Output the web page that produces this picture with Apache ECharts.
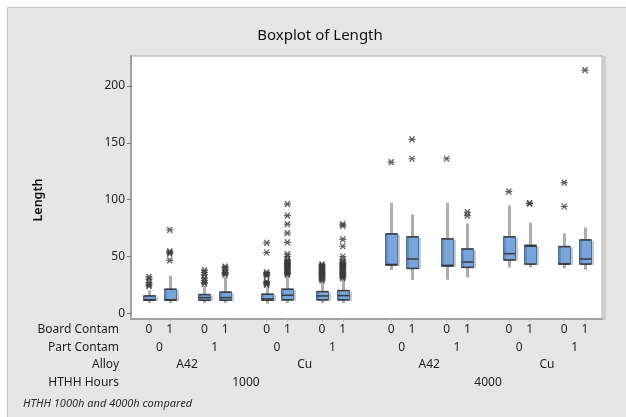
<!DOCTYPE html>
<html><head><meta charset="utf-8">
<script src="https://cdn.jsdelivr.net/npm/echarts@6/dist/echarts.min.js"></script>
<style>
html,body{margin:0;padding:0;background:#fff}
#wrap{position:relative;width:626px;height:417px;overflow:hidden}
#panel{position:absolute;left:7px;top:7px;right:0;bottom:0;background:#e6e6e6;border-left:1px solid #c4c4c4;border-top:1px solid #c4c4c4}
#c{position:absolute;left:0;top:0;width:626px;height:417px}
</style>
</head><body><div id="wrap"><div id="panel"></div><div id="c"></div></div>
<script>
// ---- grouping categories (one entry per box) ----
const boardContam = ['0','1','0','1','0','1','0','1','0','1','0','1','0','1','0','1'];
const partContam  = ['0','0','1','1','0','0','1','1','0','0','1','1','0','0','1','1'];
const alloy       = ['A42','A42','A42','A42','Cu','Cu','Cu','Cu','A42','A42','A42','A42','Cu','Cu','Cu','Cu'];
const hthhHours   = ['1000','1000','1000','1000','1000','1000','1000','1000','4000','4000','4000','4000','4000','4000','4000','4000'];
const rowNames    = ['Board Contam', 'Part Contam', 'Alloy', 'HTHH Hours'];

// ---- box statistics ----
const whiskerLow  = [9, 9, 9, 9, 8.5, 9, 9, 9, 38, 29.5, 29.5, 31.5, 40.4, 40.4, 39.5, 38.3];
const q1          = [11.5, 11.5, 11.5, 11.5, 11.5, 11.8, 11.8, 11.8, 42.5, 39.5, 41.6, 40.4, 46.9, 43.3, 43.3, 43.3];
const median      = [12, 12, 13.8, 13.8, 12.7, 15.9, 15.3, 15.6, 43, 47.8, 42.2, 45.1, 52.5, 59, 43.6, 47.8];
const q3          = [15.3, 21.2, 16.5, 18.6, 16.8, 21.2, 19.1, 20, 69.9, 67.3, 65.5, 56.6, 67.3, 59.8, 58.7, 64.6];
const whiskerHigh = [20, 33, 24, 32, 23, 33, 28, 30, 97.3, 87, 97.3, 79, 95, 79.6, 70.2, 75.5];

// ---- outliers per box ----
const outliers = [
  [32, 30, 27, 25, 24],
  [46.5, 52.5, 53.5, 54.5, 73.5],
  [38, 36, 34, 31, 29, 27, 26],
  [41, 40, 38, 36, 35, 34],
  [62, 53.5, 36, 35, 34, 33, 28, 27, 26, 25],
  [96, 86, 78.5, 70.5, 62.5, 52, 50, 47, 46, 45, 44, 43, 42, 41, 40, 39, 38, 37, 36, 35, 34],
  [43, 42, 41, 40, 39, 38, 37, 36, 35, 34, 33, 32, 31, 30, 29],
  [78.5, 77, 65, 59, 50, 47, 45, 44, 43, 42, 41, 40, 39, 38, 37, 36, 35, 34, 33, 32, 31],
  [133],
  [153, 136],
  [136],
  [89, 86],
  [107],
  [96.5, 97],
  [115, 94],
  [214]
];

const yTicks = [0, 50, 100, 150, 200];

// ---- layout: x positions from the grouping structure (gaps grow with group level) ----
const xPos = [];
let cur = 0;
for (let i = 0; i < boardContam.length; i++) {
  if (i > 0) {
    let gap = 3;
    if (partContam[i] !== partContam[i-1]) gap = 5;
    if (alloy[i] !== alloy[i-1]) gap = 6;
    if (hthhHours[i] !== hthhHours[i-1]) gap = 7;
    cur += gap;
  }
  xPos.push(cur);
}
function groupCenters(keyFn) {
  const res = []; let start = 0;
  for (let i = 1; i <= xPos.length; i++) {
    if (i === xPos.length || keyFn(i) !== keyFn(i-1)) {
      res.push({v: (xPos[start] + xPos[i-1]) / 2, label: keyFn(start).split('|').pop()});
      start = i;
    }
  }
  return res;
}
const partGroups = groupCenters(i => hthhHours[i] + alloy[i] + '|' + partContam[i]);
const alloyGroups = groupCenters(i => hthhHours[i] + '|' + alloy[i]);
const hourGroups = groupCenters(i => hthhHours[i]);

const boxData = xPos.map((x, i) => [x, whiskerLow[i], q1[i], median[i], q3[i], whiskerHigh[i]]);
const outData = [];
outliers.forEach((arr, i) => arr.forEach(v => outData.push([xPos[i], v])));

const X_MIN = -2.6, X_MAX = 65.46;
const font = 'Noto Sans';
const txt = '#1e1e1e';
const ROW_OFFSETS = [0, 17.5, 35, 52.5];

function rowAxis(groups, offset) {
  const vals = groups.map(g => g.v);
  return {
    type: 'value', min: X_MIN, max: X_MAX, position: 'bottom', offset: offset,
    axisLine: {show: false}, axisTick: {show: false}, splitLine: {show: false},
    axisLabel: {customValues: vals, margin: 5, color: txt, fontFamily: font, fontSize: 12,
      formatter: v => { const g = groups.find(gg => Math.abs(gg.v - v) < 1e-6); return g ? g.label : ''; }}
  };
}

function renderBox(params, api) {
  const x = api.value(0);
  const lo = api.coord([x, api.value(1)]);
  const b1 = api.coord([x, api.value(2)]);
  const md = api.coord([x, api.value(3)]);
  const b3 = api.coord([x, api.value(4)]);
  const hi = api.coord([x, api.value(5)]);
  const cx = Math.round(lo[0]) + 0.5;
  const w = 12, L = cx - w / 2, R = cx + w / 2;
  return {type: 'group', children: [
    {type: 'line', shape: {x1: cx, y1: hi[1], x2: cx, y2: lo[1]}, style: {stroke: '#adadad', lineWidth: 3}},
    {type: 'rect', shape: {x: R, y: b3[1] + 1, width: 2.5, height: b1[1] - b3[1]}, style: {fill: '#c9c9c9'}},
    {type: 'rect', shape: {x: L, y: b3[1], width: w, height: b1[1] - b3[1]}, style: {fill: '#7aa5da', stroke: '#4b6f9e', lineWidth: 1}},
    {type: 'line', shape: {x1: L + 1.5, y1: b3[1], x2: L + 1.5, y2: b1[1]}, style: {stroke: '#5c85ba', lineWidth: 1.5}},
    {type: 'line', shape: {x1: L, y1: b3[1], x2: R, y2: b3[1]}, style: {stroke: '#3a3a3a', lineWidth: 1.5}},
    {type: 'line', shape: {x1: L, y1: b1[1], x2: R, y2: b1[1]}, style: {stroke: '#3a3a3a', lineWidth: 1.5}},
    {type: 'line', shape: {x1: L, y1: md[1], x2: R, y2: md[1]}, style: {stroke: '#3a3a3a', lineWidth: 1.5}}
  ]};
}

const GRID = {left: 131, right: 24, top: 56, bottom: 98};
const plotBottom = 417 - GRID.bottom;
const plotRight = 626 - GRID.right;
const rowLabelGraphics = rowNames.map((n, k) => ({
  type: 'text', x: GRID.left - 12, y: plotBottom + ROW_OFFSETS[k] + 5,
  style: {text: n, fill: txt, font: '12px "Noto Sans"', align: 'right', verticalAlign: 'top'}
}));

const chart = echarts.init(document.getElementById('c'), null, {renderer: 'canvas'});
chart.setOption({
  backgroundColor: 'transparent',
  animation: false,
  grid: Object.assign({show: true, backgroundColor: '#ffffff', borderColor: '#a9a9a9', borderWidth: 1}, GRID),
  xAxis: [
    {
      type: 'value', min: X_MIN, max: X_MAX, position: 'bottom',
      axisLine: {show: true, onZero: false, lineStyle: {color: '#a0a0a0', width: 2}},
      axisTick: {show: true, customValues: xPos, length: 3, lineStyle: {color: '#bdbdbd'}},
      splitLine: {show: false},
      axisLabel: {customValues: xPos, margin: 5, color: txt, fontFamily: font, fontSize: 12,
        formatter: v => { const i = xPos.indexOf(v); return i >= 0 ? boardContam[i] : ''; }}
    },
    rowAxis(partGroups, ROW_OFFSETS[1]),
    rowAxis(alloyGroups, ROW_OFFSETS[2]),
    rowAxis(hourGroups, ROW_OFFSETS[3])
  ],
  yAxis: {
    type: 'value', min: -5, max: 226.4,
    axisLine: {show: true, onZero: false, lineStyle: {color: '#a0a0a0', width: 2}},
    axisTick: {show: true, customValues: yTicks, length: 4, lineStyle: {color: '#777'}},
    axisLabel: {customValues: yTicks, margin: 6, color: txt, fontFamily: font, fontSize: 12},
    splitLine: {show: false}
  },
  graphic: [
    {type: 'rect', x: plotRight + 1, y: GRID.top, shape: {width: 3, height: plotBottom - GRID.top + 1}, style: {fill: '#cfcfcf'}},
    {type: 'text', x: 320, y: 36, style: {text: 'Boxplot of Length', fill: '#111', font: '15px "Noto Sans"', align: 'center', verticalAlign: 'middle'}},
    {type: 'text', x: 38, y: 200, rotation: Math.PI / 2, style: {text: 'Length', fill: '#111', font: '600 12.5px "Noto Sans"', align: 'center', verticalAlign: 'middle'}},
    {type: 'text', left: 23, top: 398, style: {text: 'HTHH 1000h and 4000h compared', fill: '#2a2a2a', font: 'italic 11px "Noto Sans"'}}
  ].concat(rowLabelGraphics),
  series: [
    {type: 'custom', xAxisIndex: 0, yAxisIndex: 0, renderItem: renderBox, data: boxData, z: 2},
    {type: 'scatter', xAxisIndex: 0, yAxisIndex: 0, data: outData, z: 3,
      symbol: 'path://M-5,0L5,0M-3.5,-3.5L3.5,3.5M-3.5,3.5L3.5,-3.5', symbolSize: [7, 6],
      itemStyle: {color: 'none', borderColor: '#3a3a3a', borderWidth: 1.3}}
  ]
});
</script></body></html>
